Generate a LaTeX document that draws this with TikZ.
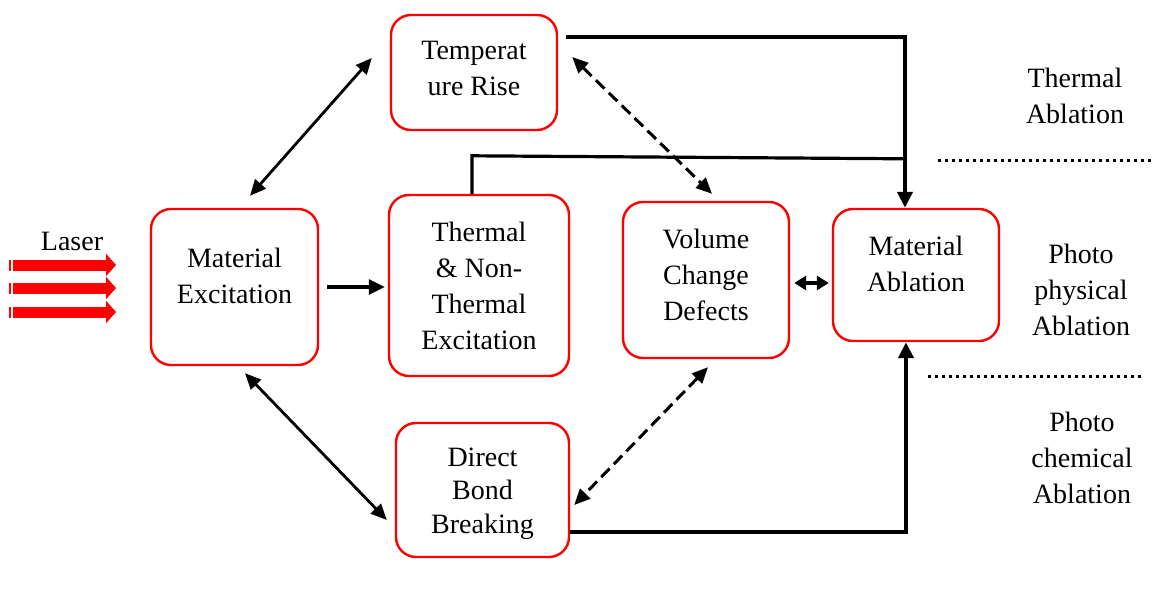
\documentclass[tikz,border=0pt]{standalone}
\usepackage{fontspec}
\setmainfont{Liberation Serif}
\usetikzlibrary{arrows.meta}
% box text, lifted inside its frame
\newcommand\boxtext[2]{\raisebox{#1}[\height][\depth]{\begin{tabular}{@{}c@{}}#2\end{tabular}}}
\begin{document}
\begin{tikzpicture}[x=0.5pt,y=-0.5pt,
    blk/.style={draw=red,line width=1.2pt,rounded corners=10pt,align=center,
      font=\fontsize{14}{18}\selectfont},
    lbl/.style={align=center,font=\fontsize{14}{18}\selectfont},
    link/.style={line width=1.4pt,{Triangle[length=8pt,width=7pt]}-{Triangle[length=8pt,width=7pt]}},
    feed/.style={line width=2pt,-{Triangle[length=8pt,width=7.5pt]}},
    sep/.style={line width=1.5pt,dash pattern=on 1.5pt off 2pt}]
  \useasboundingbox (0,0) rectangle (1153,589);
  \draw
    (474,72.5) node[blk,minimum width=83pt,minimum height=57.5pt] (temp){\boxtext{1pt}{Temperat\\ure Rise}}
    (234.5,287) node[blk,minimum width=83.5pt,minimum height=78pt] (excite){\boxtext{4.5pt}{Material\\Excitation}}
    (479,285.5) node[blk,minimum width=90pt,minimum height=90.5pt] (thermal){Thermal\\\& Non-\\Thermal\\Excitation}
    (706,280) node[blk,minimum width=83pt,minimum height=78pt] (volume){\boxtext{1.5pt}{Volume\\Change\\Defects}}
    (916,275) node[blk,minimum width=83pt,minimum height=66pt] (ablation){\boxtext{4.5pt}{Material\\Ablation}}
    (482.5,490) node[blk,minimum width=86.5pt,minimum height=67pt,
      font=\fontsize{14}{16.8}\selectfont] (direct){\boxtext{-1.5pt}{Direct\\Bond\\Breaking}};
  \draw
    (72,241) node[lbl] (laser){Laser}
    (1075,95.5) node[lbl] (thab){Thermal\\Ablation}
    (1081,290) node[lbl] (phab){Photo\\physical\\Ablation}
    (1082,458) node[lbl] (chab){Photo\\chemical\\Ablation};
  % laser beams
  \foreach \y in {265,288,312} {
    \draw[red,line width=5.5pt,-{Triangle[length=5pt,width=11pt]}] (9,\y) -- (116,\y);
    \draw[white,line width=0.6pt] (12,\y-6) -- (12,\y+6);
  }
  % zone separators
  \draw[sep] (938,160) -- (1153,160);
  \draw[sep] (928,376) -- (1145,376);
  \begin{scope}[line join=miter]
    \draw[link] ([xshift=7.75pt,yshift=6pt]excite.north) to ([xshift=-9pt,yshift=7.25pt]temp.west);
    \draw[link] ([xshift=5.25pt,yshift=-3.5pt]excite.south) to ([xshift=-4pt,yshift=-15pt]direct.west);
    \draw[feed,line width=1.6pt] ([xshift=4pt]excite.east) to ([xshift=-1.5pt]excite.east -| thermal.west);
    \draw[link,line width=1.5pt,dash pattern=on 6pt off 3pt] ([xshift=7pt,yshift=7.75pt]temp.east) to ([xshift=3pt,yshift=3.5pt]volume.north);
    \draw[link,line width=1.5pt,dash pattern=on 6pt off 3pt] ([xshift=1pt,yshift=-4pt]volume.south) to ([xshift=2pt,yshift=-7.5pt]direct.east);
    \draw[line width=1.8pt,{Triangle[length=6pt,width=7pt]}-{Triangle[length=6pt,width=7pt]}]
      ([xshift=2pt,yshift=-1.5pt]volume.east) to ([xshift=-1.5pt,yshift=-4pt]ablation.west);
    \draw[feed] ([xshift=4pt,yshift=17.75pt]temp.east) -| ([xshift=-5.5pt]ablation.north);
    \draw[line width=1.6pt] ([xshift=-3.5pt]thermal.north) -- ++(0,-38) -- ([xshift=-5.5pt,yshift=24.5pt]ablation.north);
    \draw[feed] ([yshift=-21pt]direct.east) -| ([xshift=-5pt]ablation.south);
  \end{scope}
\end{tikzpicture}
\end{document}
